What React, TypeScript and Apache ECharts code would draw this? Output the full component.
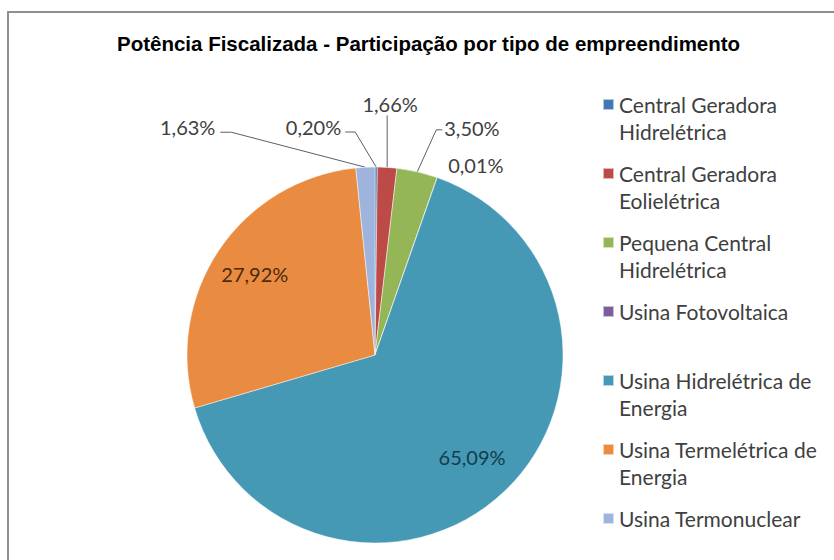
import React, { useEffect, useRef } from "react";
import * as echarts from "echarts";

const titleText = "Potência Fiscalizada - Participação por tipo de empreendimento";

const categories = [
  "Central Geradora Hidrelétrica",
  "Central Geradora Eolielétrica",
  "Pequena Central Hidrelétrica",
  "Usina Fotovoltaica",
  "Usina Hidrelétrica de Energia",
  "Usina Termelétrica de Energia",
  "Usina Termonuclear",
];

const legendLabels = [
  ["Central Geradora", "Hidrelétrica"],
  ["Central Geradora", "Eolielétrica"],
  ["Pequena Central", "Hidrelétrica"],
  ["Usina Fotovoltaica"],
  ["Usina Hidrelétrica de", "Energia"],
  ["Usina Termelétrica de", "Energia"],
  ["Usina Termonuclear"],
];

const shares = [0.2, 1.66, 3.5, 0.01, 65.09, 27.92, 1.63];

const shareLabels = ["0,20%", "1,66%", "3,50%", "0,01%", "65,09%", "27,92%", "1,63%"];

const colors = ["#4677B5", "#BC4A47", "#94B657", "#7A5E9C", "#4599B5", "#E98B40", "#9FB4DD"];

// layout / style of the data labels (offsets relative to the slice's edge anchor)
const CX = 375;
const CY = 355;
const R = 188;
const labelPlacement: any[] = [
  { inside: false, dx: -35, dy: -40, align: "right", line: [[-21, -35], [-31, -35]] },
  { inside: false, dx: 3, dy: -63, align: "center", line: [[0, -52], [0, -52]] },
  { inside: false, dx: 27, dy: -44, align: "left", line: [[19, -42], [25, -42]] },
  { inside: false, dx: 11, dy: -13, align: "left", line: null },
  { inside: true, radial: 0.75, color: "#143C4C" },
  { inside: true, radial: 0.77, color: "#4A2A10" },
  { inside: false, dx: -150, dy: -40, align: "right", line: [[-134, -35], [-145, -35]] },
];

const LABEL_FONT = "Lato, 'Open Sans', sans-serif";

export default function App() {
  const ref = useRef<HTMLDivElement>(null);

  useEffect(() => {
    document.body.style.margin = "0";
    const chart = echarts.init(ref.current as HTMLDivElement, null, { renderer: "svg" });
    const total = shares.reduce((a, b) => a + b, 0);
    const midAngles: number[] = [];
    let cum = 0;
    shares.forEach((v) => {
      midAngles.push(((cum + v / 2) / total) * Math.PI * 2);
      cum += v;
    });

    const data = categories.map((name, i) => {
      const p = labelPlacement[i];
      return {
        name,
        value: shares[i],
        itemStyle: { color: colors[i] },
        label: {
          position: p.inside ? "inside" : "outside",
          color: p.inside ? p.color : "#404040",
        },
        labelLine: { show: !p.inside && !!p.line },
      };
    });

    // every legend entry is three lines tall; the first text line sits level with the marker
    const legendText = (name: string) => {
      const lines = legendLabels[categories.indexOf(name)];
      return lines.length > 1 ? " \n" + lines.join("\n") : " \n" + lines[0] + "\n ";
    };

    const option: any = {
      animation: false,
      backgroundColor: "#ffffff",
      graphic: [
        {
          type: "rect",
          z: -10,
          silent: true,
          shape: { x: 8, y: 12, width: 900, height: 700 },
          style: { fill: "none", stroke: "#8f8f8f", lineWidth: 2 },
        },
      ],
      title: {
        text: titleText,
        left: 117,
        top: 33,
        padding: 0,
        textStyle: {
          fontFamily: "'Liberation Sans Narrow', 'Liberation Sans', Arial, sans-serif",
          fontWeight: "bold",
          fontSize: 20.5,
          color: "#000000",
        },
      },
      legend: {
        orient: "vertical",
        left: 602,
        top: 64,
        height: 700,
        padding: 0,
        itemGap: -12,
        itemWidth: 11,
        itemHeight: 11,
        icon: "rect",
        selectedMode: false,
        formatter: legendText,
        textStyle: {
          fontFamily: LABEL_FONT,
          fontSize: 21,
          lineHeight: 27,
          color: "#404040",
        },
        data: categories,
      },
      series: [
        {
          type: "pie",
          center: [CX, CY],
          radius: R,
          startAngle: 90,
          clockwise: true,
          silent: true,
          avoidLabelOverlap: false,
          itemStyle: { borderColor: "rgba(255,255,255,0.6)", borderWidth: 0.8 },
          label: {
            show: true,
            fontFamily: LABEL_FONT,
            fontSize: 20,
            formatter: (p: any) => shareLabels[p.dataIndex],
          },
          labelLine: {
            show: true,
            length: 20,
            length2: 10,
            lineStyle: { color: "#5f5f5f", width: 1 },
          },
          labelLayout: (params: any) => {
            const i = params.dataIndex;
            const p = labelPlacement[i];
            if (p.inside) {
              const lr = params.labelRect;
              const lx = lr.x + lr.width / 2;
              const ly = lr.y + lr.height / 2;
              const vx = lx - CX;
              const vy = ly - CY;
              const d = Math.hypot(vx, vy) || 1;
              const t = (p.radial * R) / d;
              return { x: CX + vx * t, y: CY + vy * t, align: "center", verticalAlign: "middle" };
            }
            const a = midAngles[i];
            const ax = CX + R * Math.sin(a);
            const ay = CY - R * Math.cos(a);
            const out: any = {
              x: ax + p.dx,
              y: ay + p.dy,
              align: p.align,
              verticalAlign: "middle",
            };
            if (p.line) {
              out.labelLinePoints = [
                [ax, ay],
                [ax + p.line[0][0], ay + p.line[0][1]],
                [ax + p.line[1][0], ay + p.line[1][1]],
              ];
            }
            return out;
          },
          data,
        },
      ],
    };

    chart.setOption(option);
    return () => chart.dispose();
  }, []);

  return <div ref={ref} style={{ width: 834, height: 560 }} />;
}
